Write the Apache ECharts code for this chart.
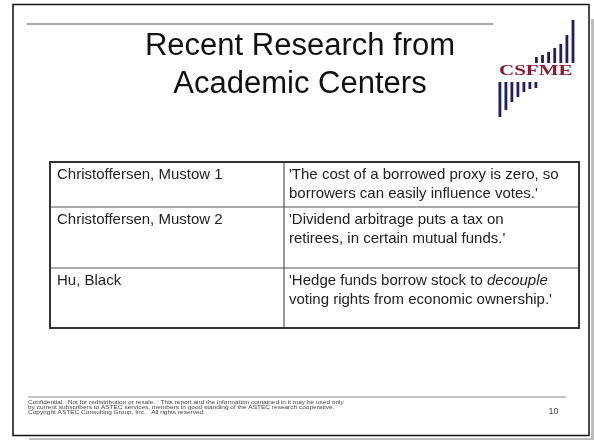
<!DOCTYPE html>
<html>
<head>
<meta charset="utf-8">
<script src="https://cdn.jsdelivr.net/npm/echarts@6/dist/echarts.min.js"></script>
<style>
html,body{margin:0;padding:0;background:#fff;}
#slide{width:594px;height:440px;}
</style>
</head>
<body>
<div id="slide"></div>
<script>
// slide content
var titleLines = ['Recent Research from', 'Academic Centers'];
var authors = ['Christoffersen, Mustow 1', 'Christoffersen, Mustow 2', 'Hu, Black'];
var findings = [
  "'The cost of a borrowed proxy is zero, so\nborrowers can easily influence votes.'",
  "'Dividend arbitrage puts a tax on\nretirees, in certain mutual funds.'",
  "'Hedge funds borrow stock to {it|decouple}\nvoting rights from economic ownership.'"
];
var footerLines = [
  'Confidential.  Not for redistribution or resale.   This report and the information contained in it may be used only',
  'by current subscribers to ASTEC services, members in good standing of the ASTEC research cooperative.',
  'Copyright ASTEC Consulting Group, Inc.   All rights reserved.'
];
var pageNo = '10';
var logoName = 'CSFME';
var logoTopBars = [6, 8, 11, 15, 19, 28, 43];
var logoBottomBars = [35, 28, 20, 15, 10, 7, 6];

var FONT = '"Liberation Sans", Arial, sans-serif';
var chart = echarts.init(document.getElementById('slide'));

var els = [];

// drop shadow + frame
els.push({ type: 'rect', shape: { x: 591, y: 19, width: 4, height: 421 }, style: { fill: '#bdbdbd' } });
els.push({ type: 'rect', shape: { x: 29, y: 438, width: 566, height: 3 }, style: { fill: '#bdbdbd' } });
els.push({ type: 'rect', shape: { x: 13, y: 4.5, width: 576, height: 431 }, style: { fill: '#fff', stroke: '#111', lineWidth: 1.5 } });

// rules
els.push({ type: 'line', shape: { x1: 27, y1: 24, x2: 493, y2: 24 }, style: { stroke: '#8c8c8c', lineWidth: 1.5 } });
els.push({ type: 'line', shape: { x1: 28, y1: 397, x2: 566, y2: 397 }, style: { stroke: '#8c8c8c', lineWidth: 1 } });

// title
titleLines.forEach(function (t, i) {
  els.push({
    type: 'text', x: 300, y: 46 + i * 38,
    style: { text: t, font: '31px ' + FONT, fill: '#111', align: 'center', verticalAlign: 'middle' }
  });
});

// logo
var navy = '#1d1d6b';
logoTopBars.forEach(function (h, i) {
  els.push({ type: 'rect', shape: { x: 535 + i * 6.1, y: 63 - h, width: 2.8, height: h }, style: { fill: navy } });
});
logoBottomBars.forEach(function (h, i) {
  els.push({ type: 'rect', shape: { x: 498.5 + i * 6, y: 82, width: 2.8, height: h }, style: { fill: navy } });
});
els.push({
  type: 'text', x: 499, y: 79, scaleX: 1.4, scaleY: 1,
  style: { text: logoName, font: 'bold 15px "Liberation Serif", "Times New Roman", serif', fill: '#8e1b2c', align: 'left', verticalAlign: 'bottom' }
});

// table
var tX = 50, tW = 529, colX = 284;
var rowY = [162, 207, 268, 328];
for (var r = 1; r < rowY.length - 1; r++) {
  els.push({ type: 'line', shape: { x1: tX, y1: rowY[r], x2: tX + tW, y2: rowY[r] }, style: { stroke: '#555', lineWidth: 1.2 } });
}
els.push({ type: 'line', shape: { x1: colX, y1: rowY[0], x2: colX, y2: rowY[3] }, style: { stroke: '#555', lineWidth: 1.2 } });
els.push({ type: 'rect', shape: { x: tX, y: rowY[0], width: tW, height: rowY[3] - rowY[0] }, style: { fill: 'none', stroke: '#333', lineWidth: 2 } });

authors.forEach(function (a, i) {
  els.push({
    type: 'text', x: 57, y: rowY[i] + 4,
    style: { text: a, font: '15px ' + FONT, fill: '#222', verticalAlign: 'top', lineHeight: 18.5 }
  });
  els.push({
    type: 'text', x: 289, y: rowY[i] + 4,
    style: {
      text: findings[i], font: '15px ' + FONT, fill: '#222', verticalAlign: 'top', lineHeight: 18.5,
      rich: { it: { fontStyle: 'italic', fontSize: 15, fontFamily: FONT, fill: '#222', lineHeight: 18.5 } }
    }
  });
});

// footer
els.push({
  type: 'text', x: 28, y: 400.5, scaleX: 1.3,
  style: { text: footerLines.join('\n'), font: '5px ' + FONT, fill: '#444', verticalAlign: 'top', lineHeight: 4.7 }
});
els.push({
  type: 'text', x: 558.5, y: 411.5,
  style: { text: pageNo, font: '9px ' + FONT, fill: '#444', align: 'right', verticalAlign: 'middle' }
});

chart.setOption({ animation: false, graphic: { elements: els } });
</script>
</body>
</html>
